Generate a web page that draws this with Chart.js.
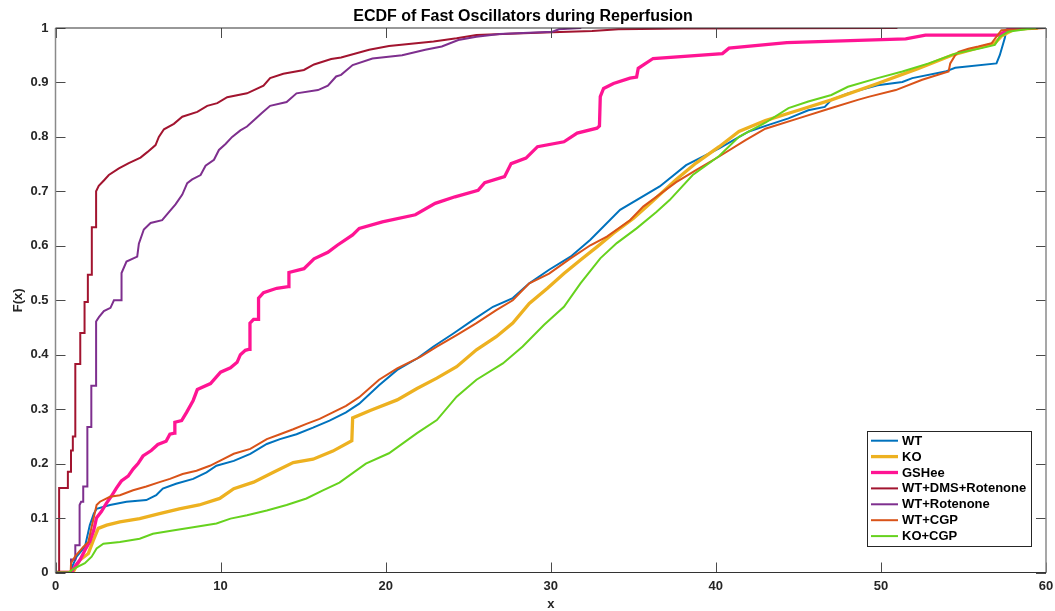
<!DOCTYPE html>
<html>
<head>
<meta charset="utf-8">
<script src="https://cdn.jsdelivr.net/npm/chart.js@4.4.1/dist/chart.umd.min.js"></script>
<style>
  html, body { margin: 0; padding: 0; background: #fff; }
  #wrap { width: 1055px; height: 611px; position: relative; }
</style>
</head>
<body>
<div id="wrap"><canvas id="c" width="1055" height="611"></canvas></div>
<script>
// ---------- DATA ----------
const chartTitle = 'ECDF of Fast Oscillators during Reperfusion';
const xAxisTitle = 'x';
const yAxisTitle = 'F(x)';

const xTicks = [0, 10, 20, 30, 40, 50, 60];
const xTickLabels = ['0', '10', '20', '30', '40', '50', '60'];
const yTicks = [0, 0.1, 0.2, 0.3, 0.4, 0.5, 0.6, 0.7, 0.8, 0.9, 1];
const yTickLabels = ['0', '0.1', '0.2', '0.3', '0.4', '0.5', '0.6', '0.7', '0.8', '0.9', '1'];

const seriesNames = ['WT', 'KO', 'GSHee', 'WT+DMS+Rotenone', 'WT+Rotenone', 'WT+CGP', 'KO+CGP'];

const wtPts = [[0,0],[0.95,0],[1.0,0.01],[1.28,0.029],[1.78,0.047],[2.08,0.087],[2.32,0.108],[2.49,0.117],[3.3,0.124],[4.3,0.13],[5.5,0.133],[6.1,0.142],[6.5,0.154],[7.3,0.163],[8.34,0.172],[9.15,0.184],[9.75,0.196],[10.8,0.205],[11.8,0.218],[12.8,0.236],[13.6,0.245],[14.6,0.254],[15.6,0.266],[16.6,0.279],[17.6,0.294],[18.4,0.31],[19.6,0.344],[20.7,0.372],[21.9,0.393],[22.9,0.415],[24.1,0.439],[25.3,0.464],[26.5,0.488],[27.7,0.504],[28.7,0.531],[29.9,0.556],[31.2,0.58],[32.4,0.611],[34.2,0.666],[36.6,0.709],[38.2,0.748],[40.2,0.779],[42.0,0.81],[43.2,0.822],[44.4,0.834],[45.6,0.849],[46.6,0.855],[47.0,0.868],[48.0,0.88],[49.8,0.895],[51.3,0.901],[51.9,0.908],[53.9,0.92],[54.5,0.927],[57.0,0.935],[57.2,0.95],[57.5,0.981],[57.6,0.996],[58.5,1]];

const koPts = [[0,0],[1.05,0],[1.48,0.023],[1.99,0.035],[2.29,0.059],[2.59,0.081],[3.1,0.087],[3.9,0.093],[5.1,0.099],[6.3,0.108],[7.5,0.117],[8.7,0.124],[9.95,0.136],[10.8,0.154],[12.0,0.166],[13.2,0.184],[14.4,0.202],[15.6,0.208],[16.8,0.223],[17.95,0.242],[18.0,0.284],[19.1,0.298],[20.7,0.317],[21.9,0.338],[23.1,0.357],[24.3,0.378],[25.5,0.409],[26.7,0.433],[27.7,0.458],[28.7,0.494],[29.8,0.522],[30.8,0.549],[31.8,0.574],[32.8,0.598],[33.8,0.623],[35.0,0.65],[36.1,0.68],[37.6,0.722],[38.8,0.752],[40.2,0.782],[41.4,0.81],[43.0,0.83],[45.0,0.849],[47.0,0.868],[49.8,0.898],[52.2,0.925],[54.3,0.95],[56.9,0.972],[57.3,0.985],[58.1,0.998],[59.5,1]];

const gsheePts = [[0,0],[0.96,0],[1.24,0.014],[1.48,0.023],[1.78,0.041],[2.08,0.057],[2.32,0.078],[2.48,0.1],[2.78,0.112],[3.08,0.127],[3.38,0.14],[3.69,0.155],[3.99,0.168],[4.4,0.177],[4.7,0.19],[5.0,0.2],[5.3,0.214],[5.8,0.224],[6.2,0.235],[6.7,0.241],[6.93,0.254],[7.2,0.256],[7.23,0.276],[7.64,0.279],[7.94,0.294],[8.34,0.316],[8.59,0.336],[9.39,0.347],[10.0,0.368],[10.6,0.376],[11.0,0.386],[11.2,0.40],[11.5,0.408],[11.75,0.41],[11.78,0.458],[12.0,0.465],[12.28,0.465],[12.3,0.504],[12.6,0.514],[13.4,0.522],[14.1,0.525],[14.14,0.551],[15.05,0.558],[15.66,0.576],[16.5,0.588],[17.07,0.601],[18.0,0.62],[18.4,0.632],[19.8,0.644],[21.8,0.657],[23.0,0.678],[24.2,0.69],[25.6,0.702],[26.0,0.716],[27.2,0.727],[27.6,0.751],[28.5,0.761],[29.2,0.782],[30.8,0.791],[31.6,0.807],[32.8,0.816],[32.95,0.82],[33.0,0.874],[33.2,0.889],[33.8,0.898],[34.8,0.908],[35.2,0.91],[35.3,0.926],[36.2,0.944],[40.4,0.953],[40.8,0.963],[44.3,0.973],[51.5,0.98],[52.7,0.987],[57.2,0.987],[57.8,1],[58.5,1]];

const dmsPts = [[0,0],[0.22,0],[0.22,0.155],[0.75,0.155],[0.75,0.185],[0.94,0.185],[0.94,0.224],[1.05,0.224],[1.05,0.25],[1.2,0.25],[1.2,0.383],[1.5,0.383],[1.5,0.44],[1.76,0.44],[1.76,0.497],[1.96,0.497],[1.96,0.547],[2.2,0.547],[2.2,0.634],[2.46,0.634],[2.46,0.70],[2.62,0.71],[2.93,0.72],[3.23,0.73],[3.84,0.742],[4.44,0.752],[5.15,0.762],[5.56,0.772],[6.06,0.785],[6.26,0.80],[6.57,0.814],[7.17,0.824],[7.68,0.837],[8.59,0.846],[9.19,0.857],[9.8,0.862],[10.4,0.873],[11.6,0.88],[12.6,0.894],[13.0,0.908],[13.8,0.916],[15.05,0.923],[15.66,0.933],[16.7,0.943],[17.3,0.946],[19.0,0.96],[20.2,0.967],[22.9,0.975],[24.3,0.981],[25.5,0.987],[27.9,0.99],[30.1,0.992],[32.5,0.9945],[34.1,0.9975],[38,0.999],[51,1]];

const rotPts = [[0,0],[0.94,0],[0.94,0.024],[1.2,0.024],[1.2,0.05],[1.46,0.05],[1.46,0.124],[1.55,0.13],[1.68,0.13],[1.68,0.158],[1.93,0.158],[1.93,0.267],[2.17,0.267],[2.17,0.343],[2.46,0.343],[2.46,0.461],[2.63,0.469],[2.93,0.48],[3.33,0.486],[3.54,0.50],[3.98,0.5],[4.0,0.55],[4.3,0.571],[4.95,0.58],[5.05,0.604],[5.35,0.63],[5.76,0.642],[6.46,0.647],[6.87,0.662],[7.27,0.676],[7.68,0.694],[7.98,0.715],[8.28,0.722],[8.79,0.73],[9.09,0.747],[9.6,0.758],[9.9,0.776],[10.3,0.787],[10.7,0.80],[11.2,0.812],[11.6,0.819],[12.0,0.83],[12.5,0.844],[13.0,0.857],[14.0,0.864],[14.6,0.88],[15.9,0.886],[16.5,0.894],[17.0,0.911],[17.3,0.914],[18.0,0.932],[19.2,0.944],[21.0,0.95],[22.4,0.96],[23.4,0.966],[24.4,0.978],[25.5,0.984],[26.9,0.989],[30.1,0.993],[30.5,0.9975],[31.85,1]];

const wtCgpPts = [[0,0],[0.92,0],[0.94,0.017],[1.18,0.029],[1.68,0.047],[1.99,0.056],[2.19,0.084],[2.49,0.124],[2.69,0.13],[3.3,0.139],[3.9,0.142],[4.7,0.151],[5.5,0.158],[6.3,0.166],[6.93,0.172],[7.7,0.181],[8.54,0.187],[9.35,0.196],[9.95,0.205],[10.8,0.218],[11.8,0.227],[12.8,0.245],[13.6,0.254],[14.4,0.263],[15.2,0.273],[16.0,0.282],[16.8,0.294],[17.6,0.306],[18.4,0.322],[19.6,0.354],[20.7,0.375],[22.1,0.396],[23.1,0.415],[24.3,0.436],[25.5,0.458],[26.7,0.482],[27.7,0.50],[28.7,0.531],[29.9,0.549],[31.2,0.577],[32.4,0.601],[33.4,0.617],[34.8,0.647],[35.6,0.672],[37.6,0.717],[38.8,0.739],[40.2,0.764],[41.8,0.794],[43.0,0.815],[45.0,0.834],[47.0,0.853],[48.6,0.868],[49.3,0.874],[50.9,0.886],[52.5,0.905],[54.1,0.92],[54.2,0.935],[54.5,0.95],[54.7,0.956],[55.3,0.962],[55.9,0.966],[56.7,0.972],[57.0,0.984],[57.3,0.996],[60,1]];

const koCgpPts = [[0,0],[0.78,0],[1.18,0.008],[1.78,0.017],[2.19,0.029],[2.49,0.044],[2.9,0.053],[3.9,0.056],[5.1,0.062],[5.9,0.071],[7.1,0.077],[8.34,0.083],[9.75,0.09],[10.6,0.099],[11.6,0.105],[12.8,0.114],[14.0,0.124],[15.2,0.136],[16.2,0.151],[17.2,0.165],[18.8,0.2],[20.2,0.219],[21.9,0.256],[23.1,0.28],[24.3,0.323],[25.5,0.354],[27.1,0.384],[28.3,0.415],[29.6,0.455],[30.8,0.488],[31.8,0.531],[33.0,0.577],[34.0,0.605],[35.2,0.632],[36.4,0.662],[37.2,0.684],[38.6,0.73],[40.2,0.765],[41.4,0.8],[43.0,0.826],[44.4,0.853],[45.6,0.865],[47.0,0.877],[48.0,0.892],[49.8,0.908],[51.3,0.92],[52.9,0.935],[54.5,0.953],[56.1,0.963],[56.9,0.969],[57.2,0.984],[57.7,0.993],[59.1,0.999],[59.6,1]];

const seriesPoints = [wtPts, koPts, gsheePts, dmsPts, rotPts, wtCgpPts, koCgpPts];

// ---------- STYLE ----------
const seriesColors = ['#0072BD', '#EDB120', '#FF1493', '#A2142F', '#7E2F8E', '#D95319', '#66D21E'];
const seriesWidths = [2, 3.3, 3.3, 2, 2, 2, 2];
const FONT = "'Liberation Sans', Arial, Helvetica, sans-serif";

const datasets = seriesNames.map((name, i) => ({
  label: name,
  data: seriesPoints[i].map(p => ({ x: p[0], y: p[1] })),
  borderColor: seriesColors[i],
  backgroundColor: seriesColors[i],
  borderWidth: seriesWidths[i],
  showLine: true,
  pointRadius: 0,
  pointHoverRadius: 0,
  tension: 0,
  fill: false,
  order: seriesNames.length - i
}));

// box, inward ticks and legend, MATLAB-like
const matlabAxes = {
  id: 'matlabAxes',
  afterDatasetsDraw(chart) {
    const { ctx, chartArea: a, scales } = chart;
    const xs = scales.x, ys = scales.y;
    ctx.save();
    // inward tick marks
    ctx.strokeStyle = '#4a4a4a';
    ctx.lineWidth = 1;
    ctx.beginPath();
    xTicks.forEach(v => {
      const px = Math.round(xs.getPixelForValue(v)) + 0.5;
      ctx.moveTo(px, a.bottom); ctx.lineTo(px, a.bottom - 10);
      ctx.moveTo(px, a.top); ctx.lineTo(px, a.top + 10);
    });
    yTicks.forEach(v => {
      const py = Math.round(ys.getPixelForValue(v)) + 0.5;
      ctx.moveTo(a.left, py); ctx.lineTo(a.left + 10, py);
      ctx.moveTo(a.right, py); ctx.lineTo(a.right - 10, py);
    });
    ctx.stroke();
    // box
    ctx.lineWidth = 1.5;
    ctx.strokeStyle = '#8a8a8a';
    ctx.beginPath();
    ctx.moveTo(a.left, a.top); ctx.lineTo(a.left, a.bottom);
    ctx.moveTo(a.right, a.top); ctx.lineTo(a.right, a.bottom);
    ctx.stroke();
    ctx.lineWidth = 1.2;
    ctx.strokeStyle = '#333333';
    ctx.beginPath();
    ctx.moveTo(a.left, a.top); ctx.lineTo(a.right, a.top);
    ctx.moveTo(a.left, a.bottom); ctx.lineTo(a.right, a.bottom);
    ctx.stroke();

    // legend
    const lw = 164, lh = 115;
    const lx = a.right - 15 - lw, ly = a.bottom - 26.5 - lh;
    ctx.fillStyle = '#ffffff';
    ctx.fillRect(lx, ly, lw, lh);
    ctx.strokeStyle = '#262626';
    ctx.lineWidth = 1;
    ctx.strokeRect(Math.round(lx) + 0.5, Math.round(ly) + 0.5, lw, lh);
    ctx.font = 'bold 13px ' + FONT;
    ctx.textBaseline = 'middle';
    ctx.textAlign = 'left';
    chart.data.datasets.forEach((ds, i) => {
      const cy = ly + 9.7 + i * 15.9;
      ctx.strokeStyle = ds.borderColor;
      ctx.lineWidth = ds.borderWidth;
      ctx.beginPath();
      ctx.moveTo(lx + 4, cy); ctx.lineTo(lx + 31, cy);
      ctx.stroke();
      ctx.fillStyle = '#000000';
      ctx.fillText(ds.label, lx + 35, cy + 0.5);
    });
    ctx.restore();
  }
};

new Chart(document.getElementById('c'), {
  type: 'scatter',
  data: { datasets },
  plugins: [matlabAxes],
  options: {
    responsive: false,
    animation: false,
    devicePixelRatio: 1,
    layout: { padding: { left: 0, right: 9, top: 0, bottom: 0 } },
    plugins: {
      legend: { display: false },
      tooltip: { enabled: false },
      title: {
        display: true,
        text: chartTitle,
        color: '#000000',
        font: { family: FONT, size: 16, weight: 'bold', lineHeight: 1.2 },
        padding: { top: 6.6, bottom: 2.2 }
      }
    },
    scales: {
      x: {
        type: 'linear',
        min: 0, max: 60,
        afterBuildTicks: s => { s.ticks = xTicks.map(v => ({ value: v })); },
        afterFit: s => { s.height = 38.5; s.paddingLeft = 0; s.paddingRight = 0; },
        ticks: {
          autoSkip: false, maxRotation: 0,
          color: '#262626',
          padding: 6,
          font: { family: FONT, size: 13, weight: 'bold' },
          callback: (v, i) => xTickLabels[i]
        },
        grid: { display: false, drawTicks: false },
        border: { display: false },
        title: {
          display: true, text: xAxisTitle, color: '#262626',
          font: { family: FONT, size: 13, weight: 'bold', lineHeight: 1.0 },
          padding: { top: 0, bottom: 0 }
        }
      },
      y: {
        type: 'linear',
        min: 0, max: 1,
        afterBuildTicks: s => { s.ticks = yTicks.map(v => ({ value: v })); },
        afterFit: s => { s.width = 55.5; s.paddingTop = 0; s.paddingBottom = 0; },
        ticks: {
          autoSkip: false,
          color: '#262626',
          padding: 7,
          font: { family: FONT, size: 13, weight: 'bold' },
          callback: (v, i) => yTickLabels[i]
        },
        grid: { display: false, drawTicks: false },
        border: { display: false },
        title: {
          display: true, text: yAxisTitle, color: '#262626',
          font: { family: FONT, size: 13, weight: 'bold', lineHeight: 1.2 },
          padding: { top: 11, bottom: 0 }
        }
      }
    }
  }
});
</script>
</body>
</html>
